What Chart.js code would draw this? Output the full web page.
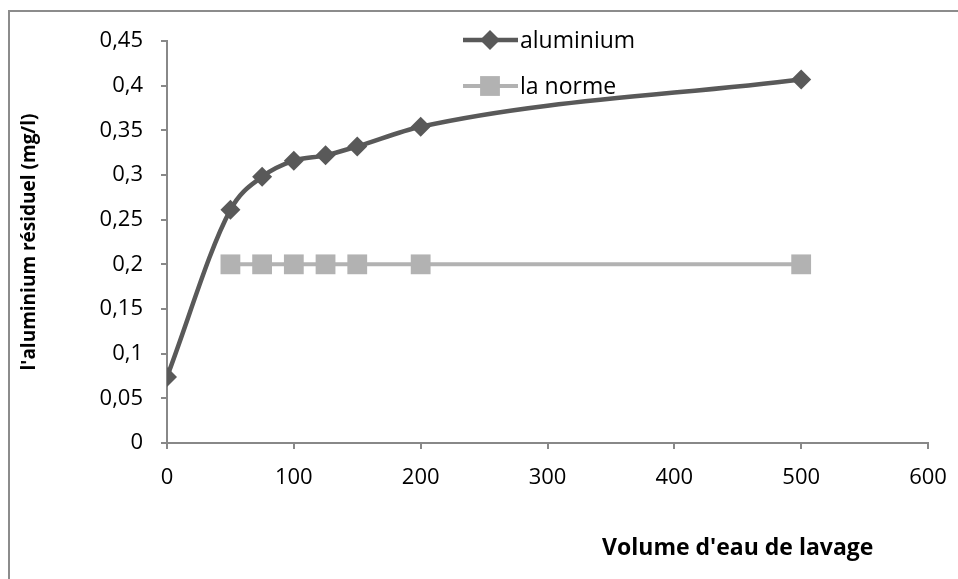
<!DOCTYPE html>
<html>
<head>
<meta charset="utf-8">
<script src="https://cdn.jsdelivr.net/npm/chart.js@4"></script>
<style>
  html, body { margin: 0; padding: 0; background: #fff; }
  #wrap { width: 958px; height: 579px; }
</style>
</head>
<body>
<div id="wrap"><canvas id="chart" width="958" height="579"></canvas></div>
<script>
// data
const volumes = [0, 50, 75, 100, 125, 150, 200, 500];
const aluminium = [0.074, 0.261, 0.298, 0.316, 0.322, 0.332, 0.354, 0.407];
const normeVolumes = [50, 75, 100, 125, 150, 200, 500];
const norme = [0.2, 0.2, 0.2, 0.2, 0.2, 0.2, 0.2];

const FONT = '"Open Sans", Lato, sans-serif';
const AXIS_GREY = '#888888';

// frame, x axis title and legend drawn by hand (Excel style)
const decorations = {
  id: 'decorations',
  beforeDraw(chart) {
    const ctx = chart.ctx;
    ctx.save();
    ctx.strokeStyle = '#8c8c8c';
    ctx.lineWidth = 2;
    ctx.beginPath();
    ctx.moveTo(9, 579);
    ctx.lineTo(9, 11);
    ctx.lineTo(958, 11);
    ctx.stroke();
    ctx.restore();
  },
  afterDraw(chart) {
    const ctx = chart.ctx;
    const area = chart.chartArea;
    ctx.save();

    // x axis title
    ctx.fillStyle = '#000';
    ctx.font = 'bold 23px ' + FONT;
    ctx.textAlign = 'center';
    ctx.textBaseline = 'middle';
    ctx.fillText("Volume d'eau de lavage", area.left + (area.right - area.left) * 0.75, area.bottom + 105);

    // legend
    const x0 = area.left + 296;
    chart.data.datasets.forEach((ds, i) => {
      const y = area.top - 1 + i * 46;
      ctx.strokeStyle = ds.borderColor;
      ctx.lineWidth = ds.borderWidth;
      ctx.beginPath();
      ctx.moveTo(x0, y);
      ctx.lineTo(x0 + 55, y);
      ctx.stroke();
      ctx.fillStyle = ds.pointBackgroundColor;
      const cx = x0 + 27;
      ctx.beginPath();
      if (ds.pointStyle === 'rectRot') {
        const r = ds.pointRadius;
        ctx.moveTo(cx - r, y);
        ctx.lineTo(cx, y - r);
        ctx.lineTo(cx + r, y);
        ctx.lineTo(cx, y + r);
        ctx.closePath();
      } else {
        const s = ds.pointRadius * Math.SQRT1_2;
        ctx.rect(cx - s, y - s, 2 * s, 2 * s);
      }
      ctx.fill();
      ctx.fillStyle = '#000';
      ctx.font = '23px ' + FONT;
      ctx.textAlign = 'left';
      ctx.textBaseline = 'middle';
      ctx.fillText(ds.label, x0 + 57, y + 1);
    });
    ctx.restore();
  }
};

const fmt = v => parseFloat(Number(v).toFixed(2)).toString().replace('.', ',');

new Chart(document.getElementById('chart'), {
  type: 'line',
  data: {
    datasets: [
      {
        label: 'aluminium',
        data: volumes.map((v, i) => ({ x: v, y: aluminium[i] })),
        borderColor: '#595959',
        backgroundColor: '#595959',
        pointBackgroundColor: '#595959',
        pointBorderWidth: 0,
        borderWidth: 4.5,
        pointStyle: 'rectRot',
        pointRadius: 10,
        cubicInterpolationMode: 'monotone',
        order: 1
      },
      {
        label: 'la norme',
        data: normeVolumes.map((v, i) => ({ x: v, y: norme[i] })),
        borderColor: '#b2b2b2',
        backgroundColor: '#b2b2b2',
        pointBackgroundColor: '#b2b2b2',
        pointBorderWidth: 0,
        borderWidth: 4,
        pointStyle: 'rect',
        pointRadius: 14,
        tension: 0,
        order: 2
      }
    ]
  },
  options: {
    responsive: false,
    animation: false,
    layout: { padding: { left: 0, top: 41, right: 30, bottom: 0 } },
    plugins: {
      legend: { display: false },
      tooltip: { enabled: false }
    },
    scales: {
      x: {
        type: 'linear',
        min: 0,
        max: 600,
        ticks: {
          stepSize: 100,
          padding: 16,
          color: '#000',
          font: { family: FONT, size: 22 },
          maxRotation: 0
        },
        grid: { drawOnChartArea: false, drawTicks: true, tickLength: 6, color: AXIS_GREY, lineWidth: 2 },
        border: { color: AXIS_GREY, width: 2 },
        afterFit(scale) {
          scale.height = 136;
          scale.paddingLeft = 0;
          scale.paddingRight = 0;
        }
      },
      y: {
        min: 0,
        max: 0.45,
        ticks: {
          stepSize: 0.05,
          padding: 18,
          color: '#000',
          font: { family: FONT, size: 22 },
          callback: v => fmt(v)
        },
        grid: { drawOnChartArea: false, drawTicks: true, tickLength: 6, color: AXIS_GREY, lineWidth: 2 },
        border: { color: AXIS_GREY, width: 2 },
        title: {
          display: true,
          text: "l'aluminium résiduel (mg/l)",
          color: '#000',
          font: { family: FONT, size: 19, weight: 'bold' },
          padding: { top: 18, bottom: 0 }
        },
        afterFit(scale) {
          scale.width = 167;
          scale.paddingTop = 0;
          scale.paddingBottom = 0;
        }
      }
    }
  },
  plugins: [decorations]
});
</script>
</body>
</html>
